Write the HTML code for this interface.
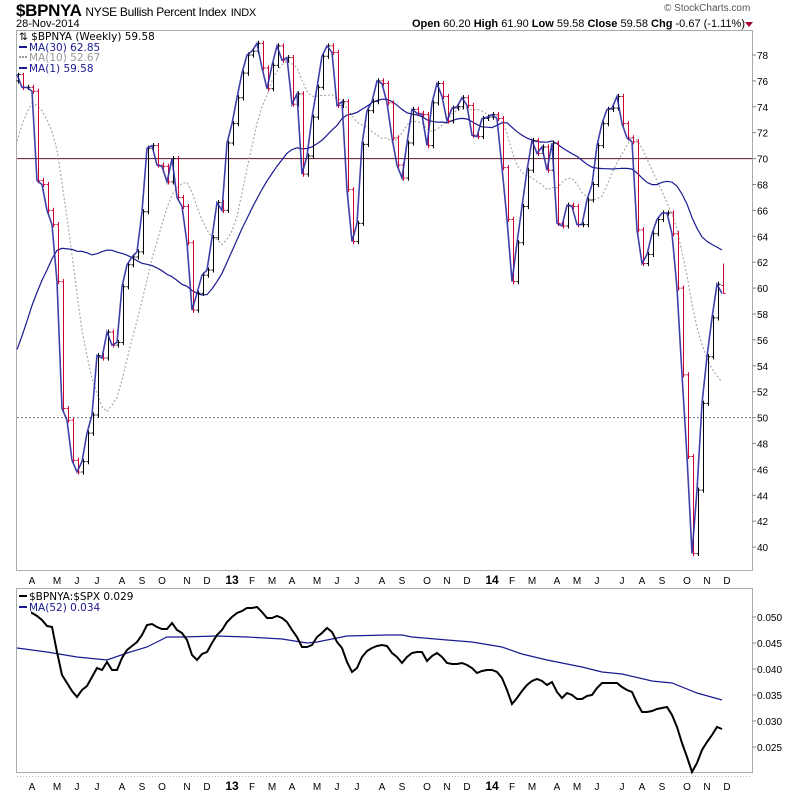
<!DOCTYPE html>
<html><head><meta charset="utf-8">
<style>
body{margin:0;background:#fff;font-family:"Liberation Sans",sans-serif;}
#wrap{position:relative;width:800px;height:795px;overflow:hidden;}
.t{position:absolute;white-space:nowrap;}
</style></head>
<body>
<div id="wrap">
<div class="t" style="left:16px;top:1px;font-size:17px;font-weight:bold;letter-spacing:-0.3px">$BPNYA <span style="font-size:12px;font-weight:normal">NYSE Bullish Percent Index</span> <span style="font-size:11px;font-weight:normal">INDX</span></div>
<div class="t" style="left:16px;top:18px;font-size:11px">28-Nov-2014</div>
<div class="t" style="left:664px;top:3px;font-size:10px;color:#555">© StockCharts.com</div>
<div class="t" style="right:55px;top:18px;font-size:11px"><b>Open</b> 60.20 <b>High</b> 61.90 <b>Low</b> 59.58 <b>Close</b> 59.58 <b>Chg</b> -0.67 (-1.11%)</div>
<div class="t" style="left:745px;top:22px;width:0;height:0;border-left:4px solid transparent;border-right:4px solid transparent;border-top:5px solid #a00030"></div>
<svg id="svg" width="800" height="795" style="position:absolute;left:0;top:0"></svg>
</div>
<script>
// ---- data ----
const closes = [76.5,75.5,75.5,75.2,68.3,68,66,64.9,60.5,50.7,49.8,46.7,45.8,46.6,48.8,50.2,54.8,54.6,56.6,55.6,55.8,60.1,61.8,62.4,62.8,65.9,70.8,71,69.5,69.4,68.2,70,67,66.3,63.5,58.3,59.6,61,
61.4,63.9,66.6,66,71.2,72.7,74.7,76.6,78,78.3,78.9,77,75.4,77.2,78.7,77.6,77.8,74.2,75,68.8,70.2,73.2,75.5,77.9,78.7,78.2,74.1,74.4,67.6,63.6,65,71.1,73.7,74.4,76,75.8,
74.3,71.6,69.5,68.5,71.2,73.8,73.5,73.4,71,74.3,75.8,74.8,72.9,73.9,74,74.7,74.1,71.8,71.7,73.1,73.2,73.4,73.1,69.3,65.3,60.5,63.5,66.3,69.1,71.4,70.4,70.9,69.1,71.2,65,64.8,66.4,66.3,64.9,64.9,
66.8,68,71,72.7,73.8,73.9,74.8,72.7,71.6,71.3,64.5,61.9,62.6,64.2,65.3,65.8,65.8,64.2,60,53.3,47,39.5,44.4,51.1,54.7,57.7,60.3,59.58];
const priorCloses = [44,41,39,38,40,42,39,41,46,51,48,50,47,52,55,52,50,53,56,60,63,66,68,70,72,73,74,75,76];
const lastOpen = 60.2, lastHigh = 61.9, lastLow = 59.58;
const mainTicks = [40,42,44,46,48,50,52,54,56,58,60,62,64,66,68,70,72,74,76,78];
const ratio = [52.31,51.92,51.35,50.77,50.19,49.42,48.27,48.08,43.27,38.85,37.31,35.77,34.62,35.96,36.73,38.46,40.19,39.81,41.35,39.81,39.81,42.12,43.65,44.42,45.19,46.54,48.46,48.65,48.08,47.69,47.69,48.85,47.5,46.92,45.58,42.69,41.73,42.88,43.27,45,46.54,47.5,49.04,50,50.77,51.15,51.73,51.73,51.92,50.96,49.81,49.81,50.19,49.81,49.04,47.5,46.15,44.23,44.23,44.62,46.15,46.92,47.88,47.12,45.19,44.04,41.35,39.42,40.19,42.31,43.46,44.04,44.42,44.62,44.42,43.08,42.31,41.15,42.31,43.08,43.27,43.27,41.54,42.5,43.08,42.31,41.15,40.96,40.96,41.15,40.77,40.19,39.23,39.62,39.81,39.81,39.42,38.27,35.96,33.27,34.42,35.77,36.92,37.69,38.08,37.69,36.92,37.5,35.58,34.42,35.38,35,34.23,34.23,34.81,35,36.35,37.31,37.31,37.31,37.31,36.54,35.96,35.58,33.46,31.73,31.73,31.92,32.31,32.5,32.69,31.15,28.85,25.77,23.08,20.19,21.92,24.42,25.96,27.31,28.85,28.46];
const ma52Idx = [0,6,12,18,22,26,30,33,40,46,53,58,60,64,66,74,77,79,86,91,97,101,106,113,117,121,127,131,136,141];
const ma52Vals = [44.04,43.27,42.31,41.73,43.08,44.23,46.15,46.15,46.35,46.15,45.77,45,45.19,45.96,46.35,46.54,46.54,46.15,45.58,45.19,44.23,42.88,41.73,40.38,39.42,39.04,37.69,37.31,35.38,34.04];
const ratioTicks = ["0.025","0.030","0.035","0.040","0.045","0.050"];
const monthLabels = ["A","M","J","J","A","S","O","N","D","13","F","M","A","M","J","J","A","S","O","N","D","14","F","M","A","M","J","J","A","S","O","N","D"];
const monthWeek = [3,8,12,16,21,25,29,34,38,43,47,51,55,60,64,68,73,77,82,86,90,95,99,103,108,112,116,121,125,129,134,138,142];

// ---- scales ----
const N = closes.length;
const X0 = 17, STEP = 5;
const xOf = i => X0 + i*STEP;
const yMain = v => 55 + (78 - v)*12.95;
const yRat = v => 617 + (50 - v)*5.2;
const svg = document.getElementById('svg');
const NS = 'http://www.w3.org/2000/svg';
function mk(tag, attrs){const e=document.createElementNS(NS,tag);for(const k in attrs)e.setAttribute(k,attrs[k]);svg.appendChild(e);return e;}

// panels
let p = mk('rect',{x:16.5,y:30.5,width:736,height:540,fill:'none',stroke:'#aaa'});


p = mk('rect',{x:16.5,y:588.5,width:736,height:184,fill:'none',stroke:'#aaa'});



// main y ticks
mainTicks.forEach(v=>{
  const y=yMain(v);
  const tk=mk('line',{x1:752,x2:756,y1:y,y2:y,stroke:'#888'});
  
  
  const t=mk('text',{x:757,y:y+4,'font-size':10,fill:'#000','font-family':'Liberation Sans, sans-serif'});
  t.textContent=v;
  
  
});
// reference lines
let l=mk('line',{x1:17,x2:752,y1:yMain(70),y2:yMain(70),stroke:'#5a1424','stroke-width':1});


l=mk('line',{x1:17,x2:752,y1:yMain(50),y2:yMain(50),stroke:'#6a7a8a','stroke-dasharray':'2,2'});



// moving averages
const all = priorCloses.concat(closes);
function ma(n){return closes.map((c,i)=>{const j=i+priorCloses.length;let s=0,k=0;for(let q=Math.max(0,j-n+1);q<=j;q++){s+=all[q];k++;}return s/k;});}
const ma30=ma(30), ma10=ma(10);
function path(vals, yf){return vals.map((v,i)=>(i?'L':'M')+xOf(i)+','+yf(v).toFixed(1)).join('');}
l=mk('path',{d:path(ma10,yMain),fill:'none',stroke:'#aaa','stroke-width':1.2,'stroke-dasharray':'2,2'});


l=mk('path',{d:path(ma30,yMain),fill:'none',stroke:'#1a1a90','stroke-width':1.2});



// bars
closes.forEach((c,i)=>{
  const o = i===N-1 ? lastOpen : (i? closes[i-1] : priorCloses[priorCloses.length-1]);
  let hi = Math.max(o,c)+0.2, lo = Math.min(o,c)-0.2;
  if(i===N-1){hi=lastHigh;lo=lastLow;}
  const col = (i && c<closes[i-1]) ? '#cc0033' : '#000';
  const x=xOf(i)+1.5;
  const b=mk('path',{d:`M${x},${yMain(hi)}L${x},${yMain(lo)}M${x-2},${yMain(o)}L${x},${yMain(o)}M${x},${yMain(c)}L${x+2},${yMain(c)}`,stroke:col,'stroke-width':1,fill:'none'});
  
  
});
l=mk('path',{d:path(closes,yMain),fill:'none',stroke:'#2a2aa0','stroke-width':1.6,'stroke-opacity':0.9});



// ratio ticks
ratioTicks.forEach(s=>{
  const v=parseFloat(s)*1000, y=yRat(v);
  const tk=mk('line',{x1:752,x2:756,y1:y,y2:y,stroke:'#888'});
  
  
  const t=mk('text',{x:757,y:y+4,'font-size':10,fill:'#000','font-family':'Liberation Sans, sans-serif'});
  t.textContent=s;
  
  
});
l=mk('path',{d:ma52Idx.map((w,k)=>(k?'L':'M')+xOf(w)+','+yRat(ma52Vals[k]).toFixed(1)).join(''),fill:'none',stroke:'#1a1a90','stroke-width':1.2});


l=mk('path',{d:path(ratio,yRat),fill:'none',stroke:'#000','stroke-width':2});



// x labels
[580,786].forEach(yy=>{
  const dl=mk('line',{x1:17,x2:752,y1:yy-9.5,y2:yy-9.5,stroke:'#bbb','stroke-dasharray':'1,2'});
  
  
  monthLabels.forEach((m,k)=>{
    const bold = m.length===2;
    const t=mk('text',{x:xOf(monthWeek[k]),y:yy+4,'font-size':bold?12:10,'font-weight':bold?'bold':'normal','text-anchor':'middle',fill:'#000','font-family':'Liberation Sans, sans-serif'});
    t.textContent=m;
    
    
  });
});

// legends
function legend(y,sym,txt,col,dash){
  if(sym){const s=mk('line',{x1:19,x2:27,y1:y-4,y2:y-4,stroke:col,'stroke-width':2,'stroke-dasharray':dash||'none'});
    
    }
  const t=mk('text',{x:sym?29:19,y:y,'font-size':10.5,fill:col,'font-family':'DejaVu Sans, sans-serif'});
  t.textContent=txt;
  
  
}
let bg=mk('rect',{x:17,y:31,width:120,height:42,fill:'#fff','fill-opacity':0.85});


legend(40,false,'⇅ $BPNYA (Weekly) 59.58','#000');
legend(51,true,'MA(30) 62.85','#1a1a90');
legend(61,true,'MA(10) 52.67','#999','2,1');
legend(72,true,'MA(1) 59.58','#1a1a90');
bg=mk('rect',{x:17,y:589,width:14,height:25,fill:'#fff'});


legend(600,true,'$BPNYA:$SPX 0.029','#000');
legend(611,true,'MA(52) 0.034','#1a1a90');
</script>
</body></html>
